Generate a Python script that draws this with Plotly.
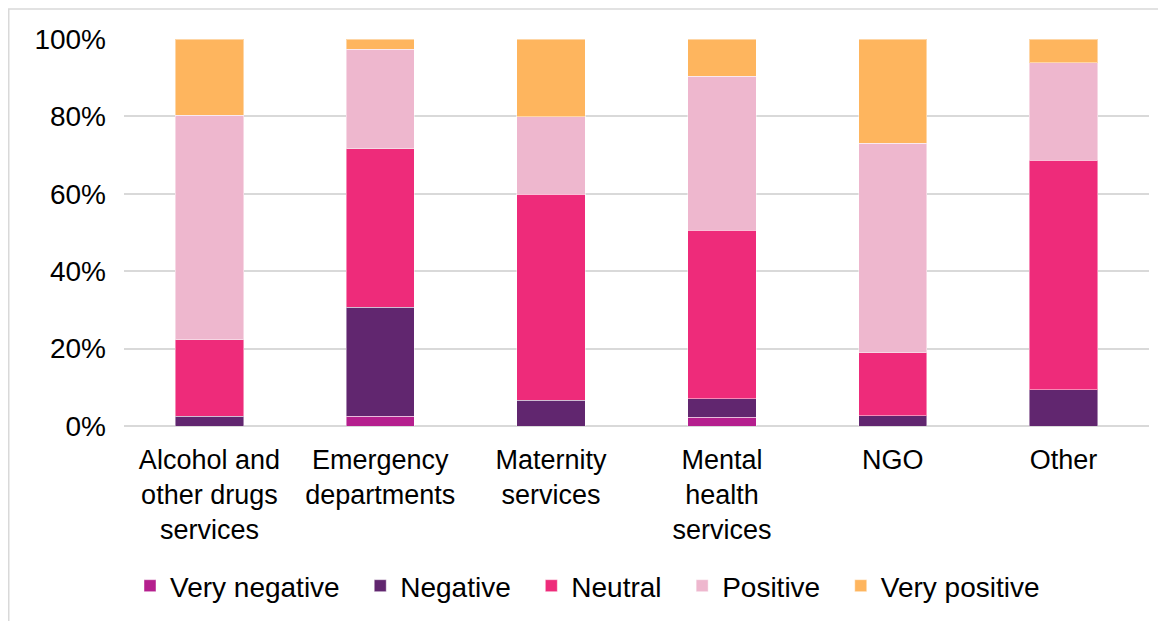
import plotly.graph_objects as go

categories = ["Alcohol and<br>other drugs<br>services", "Emergency<br>departments",
              "Maternity<br>services", "Mental<br>health<br>services", "NGO", "Other"]
very_negative = [0.0, 2.5, 0.0, 2.3, 0.0, 0.0]
negative = [2.5, 28.2, 6.7, 4.8, 2.7, 9.4]
neutral = [19.8, 41.0, 53.2, 43.5, 16.2, 59.3]
positive = [58.0, 25.7, 20.0, 39.8, 54.1, 25.1]
very_positive = [19.7, 2.6, 20.1, 9.6, 27.0, 6.2]
y_ticks = [0, 20, 40, 60, 80, 100]
y_tick_labels = ["0%", "20%", "40%", "60%", "80%", "100%"]

series = [
    ("Very negative", very_negative, "#B51F8E"),
    ("Negative", negative, "#61266F"),
    ("Neutral", neutral, "#EE2B7A"),
    ("Positive", positive, "#EEB7CE"),
    ("Very positive", very_positive, "#FEB55E"),
]

fig = go.Figure()
for i, (name, vals, color) in enumerate(series):
    label = name + ("\u00a0\u00a0" if i < len(series) - 1 else "")
    fig.add_trace(go.Bar(
        x=categories, y=vals, name=label,
        marker=dict(color=color, line=dict(color="rgba(255,255,255,0.45)", width=1)),
    ))

FONT = "Liberation Sans, Arial, sans-serif"
# page body has an 8px margin, so the figure is drawn 8px smaller
W, H = 1158, 613
L, R, T, B = 116, 17, 31, 195
pw, ph = W - L - R, H - T - B

fig.update_layout(
    width=W, height=H,
    barmode="stack", bargap=0.6,
    margin=dict(l=L, r=R, t=T, b=B, autoexpand=False),
    plot_bgcolor="white", paper_bgcolor="white",
    font=dict(family=FONT, size=28, color="#000000"),
    showlegend=True,
    legend=dict(orientation="h", x=(137 - 15 - L) / pw, xanchor="left",
                y=(T + ph - 578) / ph, yanchor="middle",
                font=dict(size=28), traceorder="normal",
                itemwidth=30, tracegroupgap=0),
    xaxis=dict(showgrid=False, showline=False, ticks="", ticklabelstandoff=15,
               tickfont=dict(size=27), automargin=False),
    yaxis=dict(range=[0, 100], tickvals=y_ticks, ticktext=y_tick_labels,
               showgrid=True, gridcolor="#D9D9D9", gridwidth=1.5,
               zeroline=True, zerolinecolor="#D9D9D9", zerolinewidth=1.5,
               showline=False, ticks="", ticklabelstandoff=17,
               tickfont=dict(size=28), automargin=False),
    shapes=[dict(type="rect", xref="paper", yref="paper",
                 x0=(0.75 - L) / pw, x1=(W + 20 - L) / pw,
                 y0=(T + ph - (H + 20)) / ph, y1=(T + ph - 1) / ph,
                 line=dict(color="#D9D9D9", width=1.5), fillcolor="rgba(0,0,0,0)",
                 layer="below")],
)

fig.write_html("out.html")
